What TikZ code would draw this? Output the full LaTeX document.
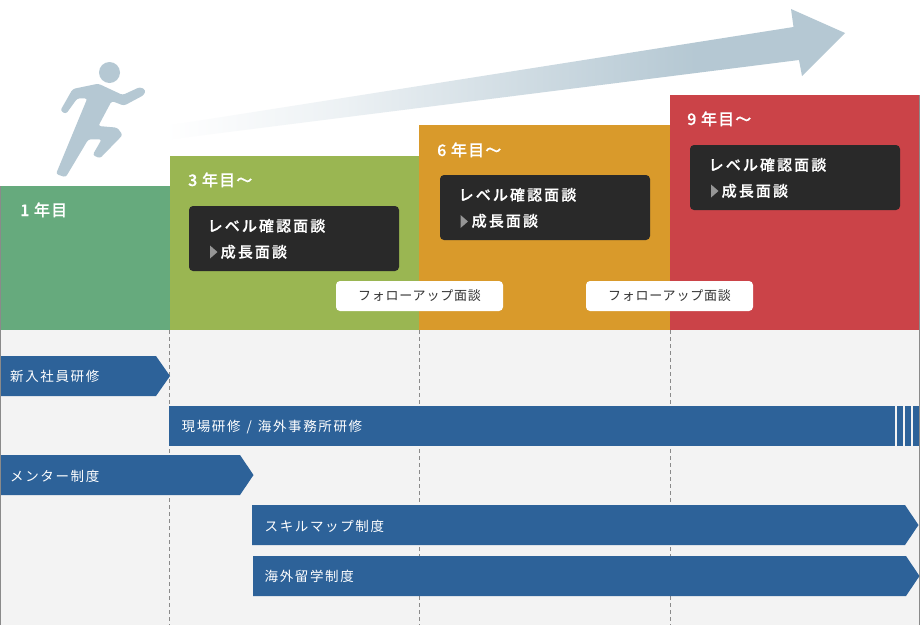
\documentclass[tikz,border=0pt]{standalone}
\usepackage{fontspec}
\setmainfont{Noto Sans CJK JP}
\newfontfamily\hfont[LetterSpace=7,FakeBold=0.5]{Noto Sans CJK JP Medium}
\newfontfamily\lfont[LetterSpace=14,FakeBold=0.5]{Noto Sans CJK JP Medium}
\newfontfamily\bfont[LetterSpace=12,WordSpace=1.3]{Noto Sans CJK JP}
\newfontfamily\ffont[LetterSpace=6]{Noto Sans CJK JP}
\definecolor{cgreen}{HTML}{66AA7D}
\definecolor{colive}{HTML}{9AB652}
\definecolor{corange}{HTML}{D99A2B}
\definecolor{cred}{HTML}{CB4348}
\definecolor{cdark}{HTML}{292929}
\definecolor{cbg}{HTML}{F3F3F3}
\definecolor{cbar}{HTML}{2D6299}
\definecolor{csteel}{HTML}{B5C8D3}
\definecolor{cgrey}{HTML}{8A8A8A}
\definecolor{ctext}{HTML}{333333}
\pgfdeclarehorizontalshading{arrowfade}{100bp}{color(0bp)=(white); color(25bp)=(white); color(38bp)=(csteel!25!white); color(53bp)=(csteel!69!white); color(64bp)=(csteel); color(100bp)=(csteel)}
\tikzset{
  x=1pt,y=-1pt,
  yeartext/.style={anchor=base west,inner sep=0pt,text=white,font=\hfont\fontsize{16}{16}\selectfont},
  leveltext/.style={anchor=base west,inner sep=0pt,text=white,font=\lfont\fontsize{15}{15}\selectfont},
  bartext/.style={anchor=base west,inner sep=0pt,text=white,font=\bfont\fontsize{13.5}{13.5}\selectfont},
  followtext/.style={inner sep=0pt,text=ctext,font=\ffont\fontsize{13}{13}\selectfont},
  darkbox/.style={fill=cdark,rounded corners=4pt},
  whitebox/.style={fill=white,rounded corners=4pt},
  barfill/.style={fill=cbar},
  marker/.style={fill=cgrey!90!white},
  guide/.style={draw=cgrey,line width=0.8pt,dash pattern=on 4pt off 3pt},
  edge/.style={draw=cgrey,line width=1pt}
}
\begin{document}
\begin{tikzpicture}
\useasboundingbox (0,0) rectangle (920,625);
\fill[white] (0,0) rectangle (920,625);
% lower background
\fill[cbg] (0,330) rectangle (920,625);
% panels
\fill[cgreen] (0,186) rectangle (170,330);
\fill[colive] (170,156) rectangle (419,330);
\fill[corange] (419,125) rectangle (670,330);
\fill[cred] (670,95) rectangle (919,330);
% edges
\coordinate (lt) at (0.5,186); \coordinate (lb) at (0.5,625);
\coordinate (rt) at (919.5,95); \coordinate (rb) at (919.5,625);
\draw[edge] (lt) -- (lb);
\draw[edge] (rt) -- (rb);
% guides
\coordinate (g1t) at (169.5,330); \coordinate (g1b) at (169.5,625);
\coordinate (g2t) at (419.5,330); \coordinate (g2b) at (419.5,625);
\coordinate (g3t) at (670.5,330); \coordinate (g3b) at (670.5,625);
\draw[guide] (g1t) -- (g1b);
\draw[guide] (g2t) -- (g2b);
\draw[guide] (g3t) -- (g3b);
% big arrow
\path[shading=arrowfade,shading angle=0]
  (165,126) -- (793.5,27) -- (791,9) -- (845,33) -- (802,76) -- (799,60) -- (165,140) -- cycle;
% runner
\fill[csteel] (109.5,72.5) circle (10.5);
\begin{scope}[shift={(0,40)},x=0.3333pt,y=-0.3333pt]
\fill[csteel,rounded corners=2.5pt]
 (218,147) -- (295,131) -- (368,165) -- (420,141) -- (437,150) -- (432,165) -- (372,197) -- (335,183)
 -- (295,258) -- (352,263) -- (368,285) -- (300,355) -- (278,345) -- (305,298) -- (265,298)
 -- (197,412) -- (168,402) -- (262,175) -- (232,175) -- (198,222) -- (181,212) -- cycle;
\end{scope}
% year labels
\node[yeartext] (y1) at (20,216) {1 年目};
\node[yeartext] (y3) at (188,186) {3 年目～};
\node[yeartext] (y6) at (437,156) {6 年目～};
\node[yeartext] (y9) at (687,125) {9 年目～};
% dark boxes
\fill[darkbox] (189,206) rectangle (399,271);
\fill[darkbox] (440,175) rectangle (650,240);
\fill[darkbox] (690,145) rectangle (900,210);
\node[leveltext] (a1) at (207.5,231.5) {レベル確認面談};
\node[leveltext] (a2) at (220.5,257.5) {成長面談};
\fill[marker] (210,245.5) -- (217.5,252) -- (210,258.5) -- cycle;
\node[leveltext] (b1) at (458.5,200.5) {レベル確認面談};
\node[leveltext] (b2) at (471.5,226.5) {成長面談};
\fill[marker] (460.5,215) -- (468,221.5) -- (460.5,228) -- cycle;
\node[leveltext] (c1) at (708.5,170.5) {レベル確認面談};
\node[leveltext] (c2) at (721.5,196.5) {成長面談};
\fill[marker] (711,184.5) -- (718.5,191) -- (711,197.5) -- cycle;
% follow-up
\fill[whitebox] (336,281) rectangle (503,311);
\fill[whitebox] (586,281) rectangle (753,311);
\node[followtext] (f1) at (419.5,296) {フォローアップ面談};
\node[followtext] (f2) at (669.5,296) {フォローアップ面談};
% bars
\fill[barfill] (1,356) -- (156,356) -- (170,376) -- (156,396) -- (1,396) -- cycle;
\fill[barfill] (169,406) rectangle (895,446);
\fill[barfill] (897,406) rectangle (903,446);
\fill[barfill] (905,406) rectangle (911,446);
\fill[barfill] (913,406) rectangle (919,446);
\fill[barfill] (1,455) -- (240,455) -- (253.5,475) -- (240,495) -- (1,495) -- cycle;
\fill[barfill] (252,505) -- (905,505) -- (918.5,525) -- (905,545) -- (252,545) -- cycle;
\fill[barfill] (253,556) -- (906,556) -- (919.5,576) -- (906,596) -- (253,596) -- cycle;
\node[bartext] (t1) at (10,381) {新入社員研修};
\node[bartext] (t2) at (181.5,431) {現場研修 / 海外事務所研修};
\node[bartext] (t3) at (10,481) {メンター制度};
\node[bartext] (t4) at (264.5,531) {スキルマップ制度};
\node[bartext] (t5) at (264.5,581) {海外留学制度};
\end{tikzpicture}
\end{document}
